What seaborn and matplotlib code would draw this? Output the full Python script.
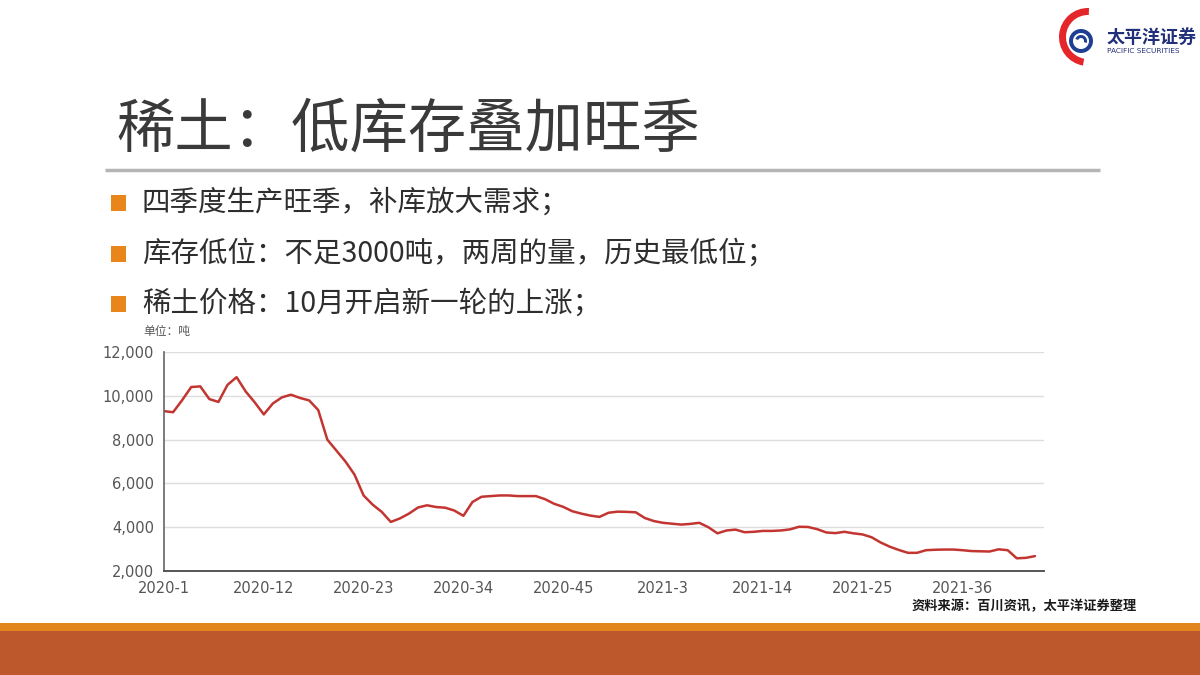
import matplotlib
matplotlib.use('Agg')
import matplotlib.pyplot as plt
from matplotlib.patches import Rectangle, Wedge
from matplotlib.ticker import FuncFormatter
import seaborn as sns

# weekly rare earth inventory (tons), 2020-1 .. 2021-44
weeks = [f'2020-{w}' for w in range(1, 54)] + [f'2021-{w}' for w in range(1, 45)]
inventory = [
    9300, 9250, 9800, 10400, 10430, 9850, 9720, 10500, 10850, 10200,
    9700, 9150, 9650, 9930, 10050, 9900, 9790, 9350, 8000, 7500,
    7000, 6400, 5450, 5030, 4700, 4240, 4400, 4620, 4900, 5000,
    4920, 4890, 4760, 4520, 5150, 5390, 5420, 5450, 5450, 5420,
    5420, 5420, 5280, 5070, 4930, 4730, 4620, 4530, 4470, 4660,
    4710, 4700, 4680, 4420, 4280, 4200, 4160, 4120, 4150, 4200,
    4000, 3720, 3850, 3890, 3770, 3790, 3830, 3830, 3850, 3900,
    4020, 4010, 3910, 3760, 3730, 3790, 3720, 3670, 3540, 3300,
    3110, 2960, 2830, 2830, 2950, 2970, 2980, 2980, 2950, 2910,
    2900, 2890, 2990, 2950, 2580, 2600, 2680,
]
y_ticks = [2000, 4000, 6000, 8000, 10000, 12000]

title = '稀土：低库存叠加旺季'
bullets = ['四季度生产旺季，补库放大需求；',
           '库存低位：不足3000吨，两周的量，历史最低位；',
           '稀土价格：10月开启新一轮的上涨；']
unit_text = '单位：吨'
source_text = '资料来源：百川资讯，太平洋证券整理'

sns.set_theme(style='white')
plt.rcParams['font.family'] = ['Noto Sans CJK SC', 'DejaVu Sans']

fig = plt.figure(figsize=(12, 6.75), dpi=100)
fig.patch.set_facecolor('white')

# decoration layer in pixel coordinates
deco = fig.add_axes([0, 0, 1, 1])
deco.set_xlim(0, 1200)
deco.set_ylim(675, 0)
deco.axis('off')

deco.text(116, 130, title, fontsize=42, color='#3a3a3a', va='center', ha='left')
deco.plot([105, 1100], [170, 170], color='#b5b5b5', lw=2.5, solid_capstyle='butt')

for i, txt in enumerate(bullets):
    yc = 203 + i * 50.5
    deco.add_patch(Rectangle((111, yc - 8), 15, 16, color='#e8861c', lw=0))
    deco.text(142, yc, txt, fontsize=20.5, color='#2e2e2e', va='center', ha='left')

deco.text(143, 331, unit_text, fontsize=8.5, color='#555555', va='center', ha='left')
deco.text(1137, 606, source_text, fontsize=9.5, color='#1a1a1a', va='center',
          ha='right', fontweight='bold')

# bottom bands
deco.add_patch(Rectangle((0, 623), 1200, 8, color='#e3851f', lw=0))
deco.add_patch(Rectangle((0, 631), 1200, 44, color='#bd582c', lw=0))

# logo
deco.add_patch(Wedge((1088, 37), 29, 100, 272, width=7, color='#e4262b', lw=0))
deco.add_patch(Wedge((1081, 41), 12, 0, 360, width=4, color='#1f3f93', lw=0))
deco.add_patch(Wedge((1081, 41), 6, 200, 20, width=3, color='#1f3f93', lw=0))
deco.text(1107, 37, '太平洋证券', fontsize=13, color='#22307a', fontweight='bold',
          va='center', ha='left')
deco.text(1107, 51, 'PACIFIC SECURITIES', fontsize=5.3, color='#22307a',
          va='center', ha='left', family=['DejaVu Sans'])

# chart
ax = fig.add_axes([164 / 1200, 1 - 571 / 675, 880 / 1200, 219 / 675])
ax.set_facecolor('white')
sns.lineplot(x=list(range(len(inventory))), y=inventory, ax=ax,
             color='#c23531', lw=1.8)
ax.set_xlim(0, 97)
ax.set_ylim(2000, 12000)
ax.set_yticks(y_ticks)
ax.yaxis.set_major_formatter(FuncFormatter(lambda v, p: f'{int(v):,}'))
xt = list(range(0, len(weeks), 11))
ax.set_xticks(xt + [97])
ax.set_xticklabels([weeks[i] for i in xt] + [''])
ax.grid(axis='y', color='#dddddd', lw=1)
ax.grid(axis='x', visible=False)
for s in ['top', 'right']:
    ax.spines[s].set_visible(False)
ax.spines['left'].set_color('#666666')
ax.spines['bottom'].set_color('#555555')
ax.spines['left'].set_linewidth(1.2)
ax.spines['bottom'].set_linewidth(1.4)
ax.tick_params(axis='both', which='both', direction='out', length=5, width=1,
               color='#666666', labelcolor='#555555', labelsize=10.5, pad=2)
for lab in ax.get_xticklabels() + ax.get_yticklabels():
    lab.set_family(['DejaVu Sans'])
ax.set_xlabel('')
ax.set_ylabel('')

fig.savefig('out.png', dpi=100)
